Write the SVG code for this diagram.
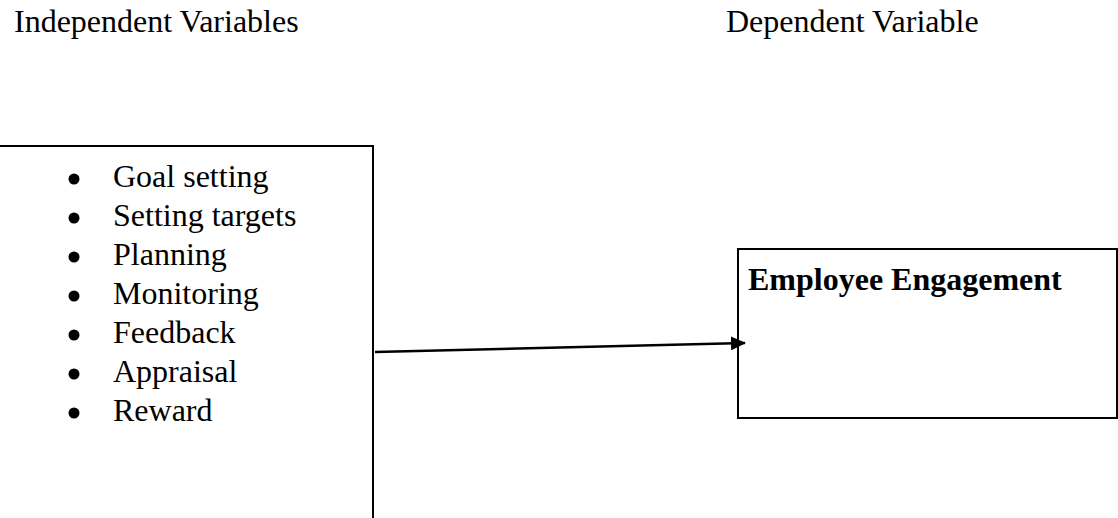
<svg xmlns="http://www.w3.org/2000/svg" width="1118" height="518" viewBox="0 0 1118 518">
<style>
.t{font-family:"Liberation Serif","Times New Roman",serif;font-size:32px;fill:#000}
.b{font-weight:bold}
.box{fill:none;stroke:#000;stroke-width:2}
.conn{stroke:#000;stroke-width:2.5;fill:none}
</style>
<defs>
<marker id="ah" markerWidth="15" markerHeight="14" refX="14" refY="7" orient="auto" markerUnits="userSpaceOnUse">
<path d="M0,0 L15,7 L0,14 Z" fill="#000"/>
</marker>
</defs>
<rect width="1118" height="518" fill="#fff"/>
<g id="headers">
<text class="t" x="14" y="32">Independent Variables</text>
<text class="t" x="726" y="32">Dependent Variable</text>
</g>
<g id="independent">
<path class="box" d="M-2,146 H373 V520"/>
<g class="t">
<circle cx="74" cy="179" r="5.5"/><text class="t" x="113" y="187">Goal setting</text>
<circle cx="74" cy="218" r="5.5"/><text class="t" x="113" y="226">Setting targets</text>
<circle cx="74" cy="257" r="5.5"/><text class="t" x="113" y="265">Planning</text>
<circle cx="74" cy="296" r="5.5"/><text class="t" x="113" y="304">Monitoring</text>
<circle cx="74" cy="335" r="5.5"/><text class="t" x="113" y="343">Feedback</text>
<circle cx="74" cy="374" r="5.5"/><text class="t" x="113" y="382">Appraisal</text>
<circle cx="74" cy="413" r="5.5"/><text class="t" x="113" y="421">Reward</text>
</g>
</g>
<g id="dependent">
<rect class="box" x="738" y="249" width="379" height="169"/>
<text class="t b" x="748" y="290">Employee Engagement</text>
</g>
<g id="connectors">
<line class="conn" x1="375" y1="352" x2="745" y2="343" marker-end="url(#ah)"/>
</g>
</svg>
